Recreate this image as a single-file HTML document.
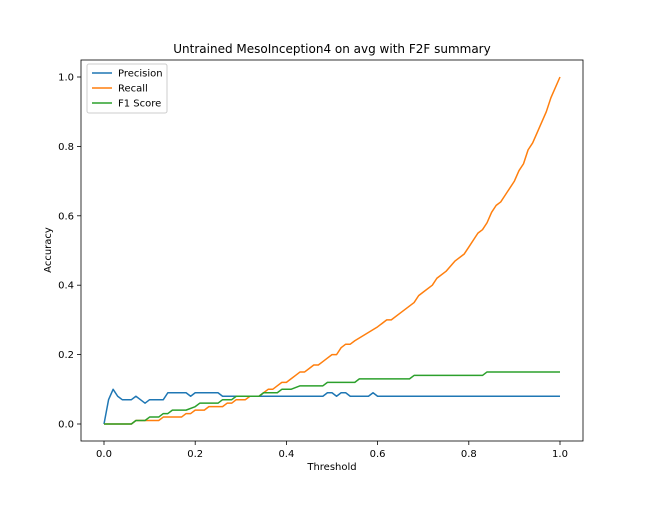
<!DOCTYPE html>
<html><head><meta charset="utf-8"><style>
body{margin:0;background:#fff}
svg text{font-family:"DejaVu Sans","Liberation Sans",sans-serif;fill:#000}
</style></head><body>
<svg id="chart" width="648" height="504" xmlns="http://www.w3.org/2000/svg">
<rect width="648" height="504" fill="#fff"/>
<g id="plot"></g>
</svg>
<script>
const xTicks=[0,0.2,0.4,0.6,0.8,1.0];
const xTickLabels=["0.0","0.2","0.4","0.6","0.8","1.0"];
const yTicks=[0,0.2,0.4,0.6,0.8,1.0];
const yTickLabels=["0.0","0.2","0.4","0.6","0.8","1.0"];
const precisionX=[0,0.01,0.02,0.03,0.04,0.06,0.07,0.08,0.09,0.10,0.13,0.14,0.18,0.19,0.20,0.25,0.26,0.48,0.49,0.50,0.51,0.52,0.53,0.54,0.58,0.59,0.60,1.0];
const precisionY=[0,0.07,0.10,0.08,0.07,0.07,0.08,0.07,0.06,0.07,0.07,0.09,0.09,0.08,0.09,0.09,0.08,0.08,0.09,0.09,0.08,0.09,0.09,0.08,0.08,0.09,0.08,0.08];
const recallX=[0,0.05,0.06,0.07,0.12,0.13,0.17,0.18,0.19,0.20,0.22,0.23,0.26,0.27,0.28,0.29,0.31,0.32,0.34,0.35,0.36,0.37,0.38,0.39,0.40,0.41,0.42,0.43,0.44,0.45,0.46,0.47,0.48,0.49,0.50,0.51,0.52,0.53,0.54,0.55,0.60,0.62,0.63,0.65,0.68,0.69,0.70,0.72,0.73,0.75,0.77,0.79,0.80,0.82,0.83,0.84,0.85,0.86,0.87,0.88,0.90,0.91,0.92,0.93,0.94,0.95,0.97,0.98,1.0];
const recallY=[0,0,0,0.01,0.01,0.02,0.02,0.03,0.03,0.04,0.04,0.05,0.05,0.06,0.06,0.07,0.07,0.08,0.08,0.09,0.10,0.10,0.11,0.12,0.12,0.13,0.14,0.15,0.15,0.16,0.17,0.17,0.18,0.19,0.20,0.20,0.22,0.23,0.23,0.24,0.28,0.30,0.30,0.32,0.35,0.37,0.38,0.40,0.42,0.44,0.47,0.49,0.51,0.55,0.56,0.58,0.61,0.63,0.64,0.66,0.70,0.73,0.75,0.79,0.81,0.84,0.90,0.94,1.0];
const f1X=[0,0.03,0.04,0.06,0.07,0.09,0.10,0.12,0.13,0.14,0.15,0.17,0.18,0.20,0.21,0.25,0.26,0.28,0.29,0.33,0.34,0.35,0.36,0.38,0.39,0.40,0.41,0.43,0.44,0.48,0.49,0.55,0.56,0.67,0.68,0.83,0.84,1.0];
const f1Y=[0,0,0,0,0.01,0.01,0.02,0.02,0.03,0.03,0.04,0.04,0.04,0.05,0.06,0.06,0.07,0.07,0.08,0.08,0.08,0.09,0.09,0.09,0.10,0.10,0.10,0.11,0.11,0.11,0.12,0.12,0.13,0.13,0.14,0.14,0.15,0.15];
const L=81,R=583,T=60,B=441;
const sx=v=>104+v*456, sy=v=>424-v*347;
const NS="http://www.w3.org/2000/svg";
const g=document.getElementById('plot');
function mk(t,a,txt){const e=document.createElementNS(NS,t);for(const k in a)e.setAttribute(k,a[k]);if(txt!==undefined)e.textContent=txt;g.appendChild(e);return e;}
xTicks.forEach((v,i)=>{
 const t=mk('line',{x1:sx(v),x2:sx(v),y1:B,y2:B+4,stroke:'#000','stroke-width':0.8});
 
 
 const l=mk('text',{x:sx(v),y:B+16,'font-size':10,'text-anchor':'middle'},xTickLabels[i]);
 
 
});
yTicks.forEach((v,i)=>{
 const t=mk('line',{x1:L-4,x2:L,y1:sy(v),y2:sy(v),stroke:'#000','stroke-width':0.8});
 
 
 const l=mk('text',{x:L-7,y:sy(v)+3.5,'font-size':10,'text-anchor':'end'},yTickLabels[i]);
 
 
});
function series(xs,ys,color,name){
 const p=mk('polyline',{points:xs.map((x,i)=>sx(x)+','+sy(ys[i])).join(' '),fill:'none',stroke:color,'stroke-width':1.5,'stroke-linejoin':'round'});
 
 
}
series(precisionX,precisionY,'#1f77b4','precision-line');
series(recallX,recallY,'#ff7f0e','recall-line');
series(f1X,f1Y,'#2ca02c','f1-score-line');
const frame=mk('rect',{x:L,y:T,width:R-L,height:B-T,fill:'none',stroke:'#000','stroke-width':0.8});


const title=mk('text',{x:332,y:53,'font-size':12,'text-anchor':'middle'},'Untrained MesoInception4 on avg with F2F summary');


const xt=mk('text',{x:332,y:470,'font-size':10,'text-anchor':'middle'},'Threshold');


const yt=mk('text',{x:51,y:250,'font-size':10,'text-anchor':'middle',transform:'rotate(-90 51 250)'},'Accuracy');


const lg=mk('rect',{x:87,y:64,width:80,height:49,fill:'#fff',stroke:'#ccc','stroke-width':1,rx:2});


[['Precision','#1f77b4'],['Recall','#ff7f0e'],['F1 Score','#2ca02c']].forEach((e,i)=>{
 const y=73+i*15;
 const ln=mk('line',{x1:92,x2:112,y1:y,y2:y,stroke:e[1],'stroke-width':1.5});
 
 
 const tx=mk('text',{x:118,y:y+3.5,'font-size':10},e[0]);
 
 
});
</script>
</body></html>
